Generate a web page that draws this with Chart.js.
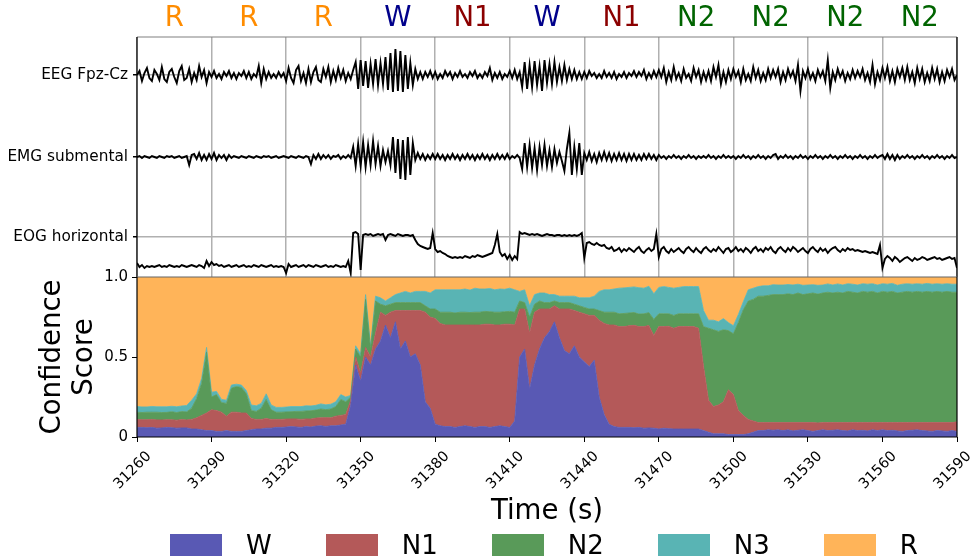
<!DOCTYPE html>
<html>
<head>
<meta charset="utf-8">
<script src="https://cdn.jsdelivr.net/npm/chart.js@4.4.1/dist/chart.umd.min.js"></script>
<style>
    html, body { margin: 0; padding: 0; background: #fff; }
    #wrap { position: relative; width: 979px; height: 560px; font-family: "DejaVu Sans", sans-serif; }
    #wrap canvas { position: absolute; left: 0; top: 0; }
    #legend { position: absolute; left: 170px; top: 530px; display: flex; gap: 54px; }
    .item { display: flex; align-items: center; gap: 24px; font-size: 26px; line-height: 30px; color: #000; }
    .swatch { width: 52px; height: 22px; }
</style>
</head>
<body>
<div id="wrap">
    <canvas id="signalChart" width="979" height="560"></canvas>
    <canvas id="scoreChart" width="979" height="560"></canvas>
    <div id="legend"></div>
</div>
<script>
// Time axis (seconds)
const startTime = 31260;
const endTime = 31590;
const xTicks = [31260, 31290, 31320, 31350, 31380, 31410, 31440, 31470, 31500, 31530, 31560, 31590];

// Hypnogram label of each 30 s epoch
const stages = ['R', 'R', 'R', 'W', 'N1', 'W', 'N1', 'N2', 'N2', 'N2', 'N2'];
const stageColors = { W: '#00008b', N1: '#8b0000', N2: '#006400', N3: '#008b8b', R: '#ff8c00' };

const channelNames = ['EEG Fpz-Cz', 'EMG submental', 'EOG horizontal'];

// Signals, one sample per second from 31260
const eeg = [
    0, 4, -6, 2, 7, -3, -6, 5, 1, -5,
    8, -4, -7, 3, 6, -2, -8, 4, 9, -5,
    -3, 6, -7, 2, -5, 9, -2, 5, -8, 3,
    -2, 4, -3, 1, -4, 3, -1, 4, -3, 2,
    -4, 2, -1, 4, -3, 3, -4, 1, -2, 9,
    -8, 6, -4, 3, -3, 1, -3, 3, -2, 2,
    -6, 7, -3, -8, 5, 9, -6, 2, -8, 6,
    -7, 3, 8, -5, -7, 6, -2, 8, -7, 4,
    -5, 7, -3, 5, -6, 2, -4, 5, 13, -14,
    15, -11, 14, -13, 11, -9, 16, -10, 12, -9,
    18, -15, 22, -17, 26, -16, 24, -17, 20, -14,
    12, -10, 6, -4, 3, -4, 3, -2, 4, -3,
    3, -4, 1, -3, 4, -1, 3, -4, 2, -2,
    4, -2, 1, -3, 3, -1, 4, -3, 1, -3,
    3, -1, 7, -5, 2, -3, 3, -4, 1, -2,
    4, -3, 5, -4, 3, -12, 13, -14, 10, -12,
    14, -10, 9, -16, 15, -8, 11, -9, 13, -7,
    8, -6, 10, -5, 6, -4, 5, -4, 3, -4,
    3, -3, 4, -1, 2, -3, 1, -3, 4, -2,
    2, -3, 3, -4, 1, -2, 3, -3, 2, -1,
    4, -2, 3, -1, 5, -4, 2, -3, 4, -2,
    5, -2, 7, -7, 3, -5, 8, -4, 2, -6,
    6, -3, 1, -6, 7, -2, 5, -7, 3, -5,
    4, -6, 8, -2, 10, -9, 3, -7, 5, -4,
    6, -2, 4, -7, 6, -5, 1, -6, 8, -3,
    5, -6, 2, -5, 6, -3, 5, -2, 6, -7,
    3, -5, 6, -2, 4, -6, 10, -16, 4, -3,
    6, -4, 2, -6, 5, -2, 4, -6, 15, -13,
    3, -5, 6, -2, 4, -6, 2, -4, 5, -3,
    4, -2, 6, -5, 2, -7, 10, -9, 3, -5,
    7, -3, 8, -6, 4, -7, 6, -2, 7, -5,
    8, -5, 3, -8, 7, -4, 6, -7, 2, -6,
    7, -4, 6, -7, 3, -6, 5, -2, 6, -5,
    0
];
const emg = [
    0, 1, -1, 1, 0, -1, 1, 0, -1, 1,
    0, -1, 1, 0, 1, -1, 0, 1, -1, 0,
    1, -8, 2, 3, -2, 4, -3, 2, -3, 3,
    -2, 4, -3, 2, -1, 2, -3, 2, -1, 1,
    0, -1, 1, 0, -1, 1, 0, -1, 1, 0,
    -1, 1, 0, 1, -1, 0, 1, -1, 0, 1,
    0, -1, 1, 0, -1, 1, 0, -1, 1, 0,
    -7, 2, -2, 3, -2, 2, -1, 2, -2, 1,
    0, 2, -2, 1, -1, 2, -1, 10, -9, 13,
    -9, 15, -10, 12, -8, 16, -7, 11, -9, 7,
    -5, 6, -8, 20, -16, 18, -22, 17, -23, 20,
    -18, 14, -3, 4, -2, 3, -3, 2, -2, 3,
    -2, 3, -2, 2, -3, 2, -2, 3, -2, 2,
    -3, 2, -2, 3, -2, 2, -3, 2, -2, 3,
    -2, 2, -3, 2, -2, 3, -2, 2, -2, 3,
    -2, 1, -1, 2, -1, -12, 14, -10, 12, -11,
    9, -13, 10, -8, 12, -9, 7, -10, 8, -6,
    5, -4, -14, 8, 24, -18, 10, -12, 14, -18,
    4, -3, 5, -4, 3, -5, 4, -3, 5, -3,
    4, -4, 3, -3, 4, -3, 3, -4, 3, -3,
    3, -3, 2, -3, 3, -2, 3, -2, 2, -3,
    2, -1, 1, -2, 1, -1, 2, -1, 1, -2,
    1, -1, 2, -1, 1, -2, 1, -1, 1, -1,
    2, -1, 1, -2, 1, -1, 2, -1, 1, -1,
    1, -2, 1, -1, 2, -1, 1, -2, 1, -1,
    2, -1, 1, -2, 1, -1, 2, 3, -2, 1,
    -1, 2, -1, 1, -2, 1, -1, 2, -1, 1,
    -2, 1, -1, 2, -1, 1, -2, 1, -1, 2,
    -1, 1, -2, 1, -1, 2, -1, 1, -2, 1,
    -1, 2, -1, 1, -2, 1, -1, 2, -1, 1,
    2, -2, 3, -2, 2, -3, 2, -2, 1, -1,
    2, -1, 1, -2, 1, -1, 2, -1, 1, -2,
    1, -1, 2, -1, 1, -2, 1, -1, 2, -1,
    0
];
const eog = [
    -26, -30, -28, -31, -29, -30, -29, -30, -29, -28,
    -30, -29, -30, -28, -29, -30, -29, -30, -28, -29,
    -30, -29, -28, -29, -30, -28, -29, -31, -24, -29,
    -25, -28, -27, -29, -28, -30, -29, -28, -30, -29,
    -28, -30, -29, -28, -30, -29, -30, -28, -29, -30,
    -28, -29, -30, -29, -28, -30, -29, -30, -29, -30,
    -36, -27, -30, -29, -28, -30, -29, -28, -30, -28,
    -29, -30, -28, -29, -30, -29, -28, -30, -29, -30,
    -28, -29, -30, -29, -30, -24, -36, 4, 5, 3,
    -33, 2, 3, 2, 3, 1, 2, 3, 2, 3,
    -3, 2, 3, 2, 1, 3, 2, 1, 2, 2,
    1, 2, -3, -7, -9, -10, -11, -12, -11, 4,
    -12, -15, -14, -16, -17, -19, -20, -21, -20, -21,
    -20, -21, -19, -20, -21, -19, -20, -18, -19, -20,
    -19, -18, -17, -16, -8, 3, -15, -19, -17, -22,
    -18, -23, -19, -22, 5, 3, 4, 3, 2, 3,
    2, 3, 2, 1, 2, 3, 2, 2, 1, 2,
    2, 1, 2, 1, 2, 1, 2, 1, 2, 4,
    -21, -6, -5, -7, -8, -6, -8, -9, -8, -11,
    -12, -10, -14, -13, -11, -15, -12, -14, -11, -13,
    -15, -12, -10, -14, -16, -13, -11, -14, -12, 3,
    -20, -12, -10, -14, -16, -12, -15, -13, -11, -14,
    -16, -12, -10, -13, -15, -11, -14, -16, -12, -10,
    -13, -15, -12, -14, -10, -13, -16, -12, -11, -15,
    -13, -10, -14, -12, -15, -11, -13, -16, -12, -10,
    -14, -12, -15, -11, -13, -10, -14, -16, -12, -10,
    -13, -15, -11, -14, -10, -12, -15, -13, -11, -14,
    -16, -12, -10, -13, -15, -11, -14, -12, -16, -13,
    -11, -10, -13, -15, -12, -14, -11, -13, -12, -14,
    -13, -14, -15, -14, -15, -16, -15, -16, -17, -8,
    -31, -22, -19, -21, -24, -20, -22, -25, -23, -21,
    -20, -22, -24, -21, -23, -22, -20, -21, -23, -22,
    -21, -20, -22, -21, -23, -22, -21, -20, -22, -21,
    -31
];

// Confidence scores, one value every 2 s from 31260
const classNames = ['W', 'N1', 'N2', 'N3', 'R'];
const probW = [
    .06, .06, .058, .06, .055, .057, .06, .058, .055, .057,
    .057, .05, .05, .045, .04, .04, .035, .035, .04, .035,
    .035, .035, .04, .045, .05, .05, .055, .055, .06, .06,
    .062, .065, .063, .06, .065, .062, .068, .07, .066, .07,
    .07, .075, .08, .2, .45, .35, .5, .45, .55, .6,
    .7, .62, .72, .55, .6, .5, .52, .45, .22, .18,
    .08, .07, .065, .065, .06, .065, .07, .065, .06, .065,
    .065, .06, .065, .07, .065, .06, .1, .5, .55, .3,
    .45, .55, .62, .66, .72, .62, .54, .52, .57, .5,
    .47, .44, .48, .25, .14, .08, .065, .06, .06, .06,
    .058, .06, .055, .057, .055, .05, .055, .052, .05, .05,
    .05, .05, .05, .05, .04, .03, .02, .02, .02, .015,
    .015, .015, .015, .02, .03, .04, .04, .045, .042, .045,
    .04, .045, .038, .042, .045, .04, .035, .04, .045, .04,
    .042, .045, .04, .038, .045, .04, .042, .038, .045, .04,
    .045, .04, .042, .038, .035, .04, .042, .045, .04, .038,
    .035, .04, .038, .035, .04, .035
];
const probN1 = [
    .05, .048, .05, .05, .052, .05, .048, .05, .05, .052,
    .05, .06, .07, .09, .11, .13, .13, .12, .09, .12,
    .12, .115, .11, .07, .06, .06, .06, .055, .05, .05,
    .05, .048, .05, .05, .048, .05, .05, .05, .055, .05,
    .06, .06, .06, .03, .05, .05, .06, .05, .1, .18,
    .06, .16, .07, .24, .19, .29, .27, .34, .56, .57,
    .66, .64, .635, .635, .64, .635, .63, .635, .64, .635,
    .64, .645, .635, .63, .64, .645, .6, .3, .25, .35,
    .33, .25, .18, .14, .1, .18, .26, .28, .22, .28,
    .3, .32, .28, .48, .57, .62, .635, .63, .63, .635,
    .64, .63, .635, .64, .58, .64, .635, .64, .63, .64,
    .64, .64, .64, .63, .4, .2, .17, .18, .2, .28,
    .25, .15, .12, .09, .07, .05, .05, .045, .048, .045,
    .05, .045, .052, .048, .045, .05, .055, .048, .045, .05,
    .048, .045, .05, .052, .045, .05, .048, .052, .045, .05,
    .045, .05, .048, .052, .055, .05, .048, .045, .05, .052,
    .055, .05, .052, .055, .05, .06
];
const probN2 = [
    .045, .045, .047, .045, .048, .046, .046, .05, .048, .05,
    .05, .07, .12, .2, .38, .08, .1, .06, .08, .15,
    .16, .16, .12, .05, .05, .07, .12, .06, .045, .045,
    .045, .045, .047, .05, .05, .052, .05, .055, .05, .055,
    .06, .1, .08, .02, .05, .1, .3, .05, .2, .05,
    .06, .05, .05, .05, .05, .05, .05, .05, .04, .05,
    .06, .07, .08, .08, .075, .08, .08, .078, .08, .08,
    .08, .078, .08, .08, .078, .08, .08, .05, .04, .1,
    .05, .05, .04, .04, .03, .04, .04, .04, .04, .04,
    .04, .04, .04, .06, .07, .08, .08, .08, .082, .08,
    .08, .078, .08, .08, .1, .08, .08, .078, .08, .08,
    .08, .08, .08, .09, .25, .45, .48, .46, .45, .37,
    .38, .55, .66, .74, .76, .79, .79, .795, .8, .8,
    .8, .805, .8, .81, .8, .805, .81, .805, .81, .815,
    .81, .815, .81, .82, .815, .81, .82, .815, .82, .81,
    .82, .815, .82, .81, .815, .82, .815, .82, .815, .82,
    .815, .82, .815, .82, .815, .81
];
const probN3 = [
    .035, .035, .033, .036, .034, .036, .035, .034, .036, .035,
    .04, .05, .03, .03, .03, .03, .02, .02, .02, .02,
    .015, .015, .02, .035, .035, .03, .035, .03, .03, .03,
    .03, .032, .03, .03, .032, .03, .03, .032, .03, .03,
    .03, .03, .03, .01, .02, .02, .03, .02, .03, .04,
    .03, .04, .05, .06, .07, .06, .07, .07, .09, .1,
    .12, .14, .14, .14, .145, .14, .145, .14, .15, .145,
    .14, .145, .14, .145, .14, .145, .14, .06, .08, .07,
    .06, .05, .06, .05, .04, .04, .04, .04, .05, .05,
    .06, .07, .08, .12, .14, .14, .145, .16, .16, .16,
    .16, .165, .16, .165, .16, .165, .17, .165, .17, .165,
    .17, .17, .17, .17, .1, .05, .06, .06, .07, .05,
    .05, .05, .05, .07, .07, .06, .065, .06, .062, .06,
    .06, .058, .06, .055, .058, .055, .052, .055, .05, .052,
    .05, .052, .05, .048, .05, .05, .048, .05, .048, .05,
    .048, .05, .05, .048, .05, .048, .05, .048, .05, .05,
    .05, .048, .05, .048, .05, .05
];
const probR = [
    .81, .812, .812, .81, .811, .811, .811, .808, .811, .806,
    .803, .77, .73, .635, .44, .72, .715, .765, .77, .675,
    .67, .675, .71, .8, .805, .79, .73, .8, .815, .815,
    .813, .81, .81, .81, .805, .806, .802, .793, .799, .795,
    .78, .735, .75, .74, .43, .48, .11, .43, .12, .13,
    .15, .13, .11, .1, .09, .1, .09, .09, .09, .1,
    .08, .08, .08, .08, .08, .08, .075, .082, .07, .075,
    .075, .072, .08, .075, .077, .07, .08, .09, .08, .18,
    .11, .1, .1, .11, .11, .12, .12, .12, .12, .13,
    .13, .13, .12, .09, .08, .08, .075, .07, .068, .065,
    .062, .067, .07, .058, .105, .065, .06, .065, .07, .065,
    .06, .06, .06, .06, .21, .27, .27, .28, .26, .285,
    .305, .235, .155, .08, .07, .06, .055, .055, .048, .05,
    .05, .047, .05, .045, .052, .05, .048, .052, .05, .043,
    .05, .043, .05, .042, .045, .05, .042, .045, .042, .05,
    .042, .045, .04, .052, .045, .042, .045, .042, .045, .04,
    .045, .042, .045, .042, .045, .045
];
const classColors = ['#5959b4', '#b45959', '#599a59', '#59b4b4', '#ffb459'];

// Trace baselines on the upper panel's y scale
const channelOffset = [162, 80, 0];

const frame = {
    id: 'frame',
    afterDatasetsDraw(chart, args, opts) {
        const { ctx, chartArea: a } = chart;
        ctx.save();
        ctx.lineWidth = 1.2;
        const side = (c, x1, y1, x2, y2) => {
            if (!c) return;
            ctx.strokeStyle = c;
            ctx.beginPath();
            ctx.moveTo(x1, y1);
            ctx.lineTo(x2, y2);
            ctx.stroke();
        };
        side(opts.top, a.left, a.top, a.right, a.top);
        side(opts.bottom, a.left, a.bottom, a.right, a.bottom);
        side(opts.left, a.left, a.top, a.left, a.bottom);
        side(opts.right, a.right, a.top, a.right, a.bottom);
        ctx.restore();
    }
};

Chart.defaults.font.family = '"DejaVu Sans", sans-serif';
Chart.defaults.color = '#000';

// Upper panel: raw signals
const sigCtx = document.getElementById('signalChart').getContext('2d');
const signalChart = new Chart(sigCtx, {
    type: 'line',
    data: {
        datasets: [eeg, emg, eog].map((sig, k) => ({
            label: channelNames[k],
            data: sig.map((v, i) => ({ x: startTime + i, y: v + channelOffset[k] })),
            borderColor: '#000',
            borderWidth: 1.9,
            pointRadius: 0,
            tension: 0,
            fill: false
        }))
    },
    options: {
        responsive: false,
        animation: false,
        events: [],
        layout: { padding: { left: 0, right: 22, top: 0, bottom: 283 } },
        plugins: {
            legend: { display: false },
            tooltip: { enabled: false },
            frame: { left: '#000', right: '#000', top: '#808080' }
        },
        scales: {
            x: {
                type: 'linear',
                min: startTime,
                max: endTime,
                afterBuildTicks: ax => { ax.ticks = xTicks.map(v => ({ value: v })); },
                ticks: { display: false },
                grid: { color: '#b0b0b0', lineWidth: 1.5, drawTicks: false },
                border: { display: false },
                afterFit: ax => { ax.height = 0; }
            },
            stage: {
                type: 'linear',
                position: 'top',
                min: startTime,
                max: endTime,
                afterBuildTicks: ax => { ax.ticks = stages.map((s, i) => ({ value: startTime + 15 + 30 * i })); },
                ticks: {
                    autoSkip: false,
                    maxRotation: 0,
                    padding: 2,
                    font: { size: 27.5 },
                    color: c => stageColors[stages[c.index]],
                    callback: (v, i) => stages[i]
                },
                grid: { display: false, drawTicks: false },
                border: { display: false },
                afterFit: ax => { ax.height = 37; }
            },
            y: {
                min: -40,
                max: 200,
                afterBuildTicks: ax => { ax.ticks = channelOffset.map(v => ({ value: v })); },
                ticks: {
                    padding: 5,
                    font: { size: 15.3 },
                    color: '#000',
                    callback: (v, i) => channelNames[i]
                },
                grid: { color: '#b0b0b0', lineWidth: 1.5, tickColor: '#000', tickLength: 4 },
                border: { display: false },
                afterFit: ax => { ax.width = 137; }
            }
        }
    },
    plugins: [frame]
});

// Lower panel: stacked confidence scores
const probSeries = [probW, probN1, probN2, probN3, probR];
const scoreCtx = document.getElementById('scoreChart').getContext('2d');
const scoreChart = new Chart(scoreCtx, {
    type: 'line',
    data: {
        datasets: classNames.map((name, k) => ({
            label: name,
            data: probSeries[k].map((v, i) => ({ x: startTime + 2 * i, y: v })),
            backgroundColor: classColors[k],
            borderColor: classColors[k],
            borderWidth: 0.8,
            pointRadius: 0,
            tension: 0,
            fill: k === 0 ? 'origin' : '-1'
        }))
    },
    options: {
        responsive: false,
        animation: false,
        events: [],
        layout: { padding: { left: 0, right: 22, top: 277, bottom: 32 } },
        plugins: {
            legend: { display: false },
            tooltip: { enabled: false },
            frame: { left: '#000', right: '#000', top: '#666', bottom: '#000' }
        },
        scales: {
            x: {
                type: 'linear',
                min: startTime,
                max: endTime,
                afterBuildTicks: ax => { ax.ticks = xTicks.map(v => ({ value: v })); },
                ticks: {
                    autoSkip: false,
                    minRotation: 45,
                    maxRotation: 45,
                    labelOffset: 12,
                    padding: 6,
                    font: { size: 14.5 },
                    color: '#000',
                    callback: v => String(v)
                },
                grid: { drawOnChartArea: false, tickLength: 5, tickColor: '#000' },
                border: { display: false },
                title: { display: true, text: 'Time (s)', font: { size: 27.6 }, color: '#000', padding: 0 },
                afterFit: ax => { ax.height = 91; }
            },
            y: {
                stacked: true,
                min: 0,
                max: 1,
                afterBuildTicks: ax => { ax.ticks = [0, 0.5, 1].map(v => ({ value: v })); },
                ticks: {
                    padding: 4,
                    font: { size: 15 },
                    color: '#000',
                    callback: v => (v === 0 ? '0' : v.toFixed(1))
                },
                grid: { drawOnChartArea: false, tickLength: 5, tickColor: '#000' },
                border: { display: false },
                title: {
                    display: true,
                    text: ['Confidence', 'Score'],
                    font: { size: 27.6, lineHeight: 1.15 },
                    color: '#000',
                    padding: { top: 37, bottom: 0 }
                },
                afterFit: ax => { ax.width = 137; }
            }
        }
    },
    plugins: [frame]
});

// Legend
const legendEl = document.getElementById('legend');
classNames.forEach((name, k) => {
    const item = document.createElement('div');
    item.className = 'item';
    item.innerHTML = `<span class="swatch" style="background:${classColors[k]}"></span><span>${name}</span>`;
    legendEl.appendChild(item);
});
</script>
</body>
</html>
